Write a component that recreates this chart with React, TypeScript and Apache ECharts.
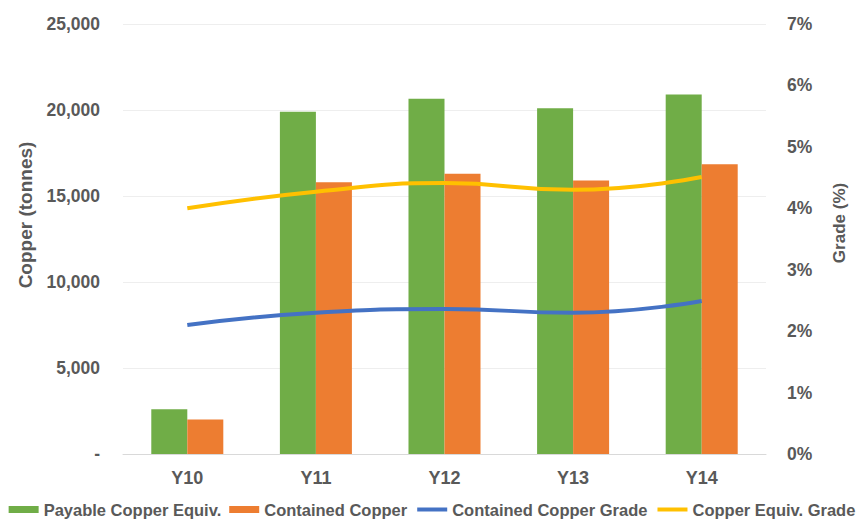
import React, { useEffect, useRef } from "react";
import * as echarts from "echarts";

const categories = ["Y10", "Y11", "Y12", "Y13", "Y14"];
const payableCopperEquiv = [2600, 19900, 20650, 20100, 20900];
const containedCopper = [2000, 15800, 16300, 15900, 16850];
const containedCopperGrade = [2.1, 2.3, 2.36, 2.3, 2.49];
const copperEquivGrade = [4.0, 4.27, 4.41, 4.3, 4.51];
const leftTicks = { min: 0, max: 25000, interval: 5000 };
const rightTicks = { min: 0, max: 7, interval: 1 };
const leftTitle = "Copper (tonnes)";
const rightTitle = "Grade (%)";

const FONT = "'Liberation Sans', Arial, sans-serif";
const GRAY = "#595959";

export default function App() {
  const ref = useRef<HTMLDivElement>(null);
  useEffect(() => {
    if (!ref.current) return;
    const chart = echarts.init(ref.current, null, { renderer: "svg" });
    chart.setOption({
      animation: false,
      backgroundColor: "#ffffff",
      textStyle: { fontFamily: FONT },
      grid: { left: 123, right: 98, top: 24, bottom: 67, containLabel: false },
      legend: {
        top: 496,
        left: "center",
        padding: [5, 0, 5, 0],
        itemWidth: 30,
        itemHeight: 7,
        itemGap: 8,
        textStyle: { color: GRAY, fontSize: 16.5, fontWeight: "bold", fontFamily: FONT },
        data: [
          { name: "Payable Copper Equiv.", icon: "rect" },
          { name: "Contained Copper", icon: "rect" },
          { name: "Contained Copper Grade", itemStyle: { opacity: 0 }, lineStyle: { width: 4 } },
          { name: "Copper Equiv. Grade", itemStyle: { opacity: 0 }, lineStyle: { width: 4 } },
        ],
      },
      graphic: [
        {
          type: "text",
          x: 25,
          y: 215,
          rotation: Math.PI / 2,
          style: {
            text: leftTitle,
            fill: GRAY,
            font: `bold 19px ${FONT}`,
            align: "center",
            verticalAlign: "middle",
          },
        },
        {
          type: "text",
          x: 839,
          y: 223,
          rotation: Math.PI / 2,
          style: {
            text: rightTitle,
            fill: GRAY,
            font: `bold 17px ${FONT}`,
            align: "center",
            verticalAlign: "middle",
          },
        },
      ],
      xAxis: {
        type: "category",
        data: categories,
        axisTick: { show: false },
        axisLine: { lineStyle: { color: "#d9d9d9", width: 1 } },
        axisLabel: { color: GRAY, fontSize: 18, fontWeight: "bold", margin: 15 },
      },
      yAxis: [
        {
          type: "value",
          ...leftTicks,
          axisLine: { show: false },
          axisTick: { show: false },
          splitLine: { lineStyle: { color: "#eeeeee", width: 1 } },
          axisLabel: {
            color: GRAY,
            fontSize: 17.5,
            fontWeight: "bold",
            margin: 23,
            formatter: (v: number) => (v === 0 ? "-" : v.toLocaleString("en-US")),
          },
        },
        {
          type: "value",
          ...rightTicks,
          axisLine: { show: false },
          axisTick: { show: false },
          splitLine: { show: false },
          axisLabel: {
            color: GRAY,
            fontSize: 17.5,
            fontWeight: "bold",
            margin: 21,
            formatter: (v: number) => v + "%",
          },
        },
      ],
      series: [
        {
          name: "Payable Copper Equiv.",
          type: "bar",
          data: payableCopperEquiv,
          itemStyle: { color: "#70AD47" },
          barGap: "0%",
          barCategoryGap: "44%",
        },
        {
          name: "Contained Copper",
          type: "bar",
          data: containedCopper,
          itemStyle: { color: "#ED7D31" },
          barGap: "0%",
          barCategoryGap: "44%",
        },
        {
          name: "Contained Copper Grade",
          type: "line",
          yAxisIndex: 1,
          data: containedCopperGrade,
          smooth: true,
          symbol: "none",
          lineStyle: { color: "#4472C4", width: 4 },
          itemStyle: { color: "#4472C4" },
        },
        {
          name: "Copper Equiv. Grade",
          type: "line",
          yAxisIndex: 1,
          data: copperEquivGrade,
          smooth: true,
          symbol: "none",
          lineStyle: { color: "#FFC000", width: 4 },
          itemStyle: { color: "#FFC000" },
        },
      ],
    });
    return () => chart.dispose();
  }, []);
  return <div ref={ref} style={{ width: 864, height: 521, position: "absolute", left: 0, top: 0 }} />;
}
